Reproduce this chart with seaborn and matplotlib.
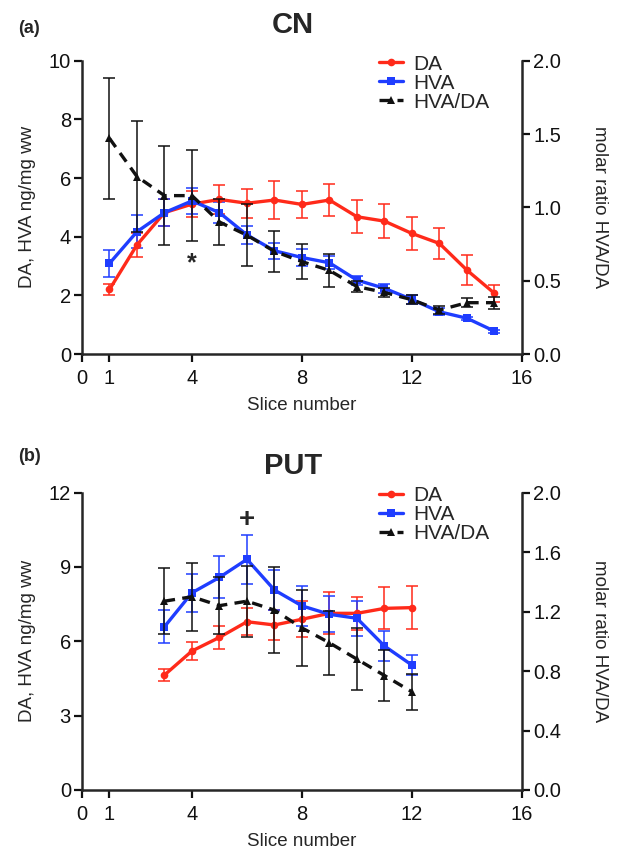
import numpy as np
import pandas as pd
import matplotlib
matplotlib.use("Agg")
import matplotlib.pyplot as plt
import seaborn as sns
from matplotlib.lines import Line2D

# panel (a) CN
a_slice = list(range(1, 16))
a_da = [2.2, 3.72, 4.82, 5.11, 5.27, 5.14, 5.25, 5.1, 5.25, 4.68, 4.53, 4.11, 3.77, 2.86, 2.07]
a_da_err = [0.2, 0.4, 0.45, 0.45, 0.5, 0.5, 0.65, 0.45, 0.55, 0.57, 0.58, 0.55, 0.52, 0.5, 0.3]
a_hva = [3.09, 4.17, 4.82, 5.22, 4.82, 4.06, 3.52, 3.29, 3.11, 2.52, 2.24, 1.86, 1.44, 1.22, 0.78]
a_hva_err = [0.47, 0.57, 0.45, 0.45, 0.35, 0.3, 0.28, 0.3, 0.22, 0.15, 0.15, 0.15, 0.12, 0.05, 0.05]
a_ratio = [1.47, 1.21, 1.08, 1.08, 0.90, 0.81, 0.70, 0.63, 0.57, 0.46, 0.42, 0.37, 0.30, 0.35, 0.35]
a_ratio_err = [0.41, 0.38, 0.34, 0.31, 0.16, 0.21, 0.14, 0.12, 0.11, 0.04, 0.03, 0.03, 0.03, 0.03, 0.04]

# panel (b) PUT
b_slice = list(range(3, 13))
b_da = [4.64, 5.61, 6.16, 6.79, 6.66, 6.89, 7.13, 7.13, 7.33, 7.36]
b_da_err = [0.23, 0.38, 0.45, 0.54, 0.6, 0.72, 0.85, 0.67, 0.85, 0.87]
b_hva = [6.59, 7.96, 8.58, 9.31, 8.07, 7.43, 7.09, 6.93, 5.81, 5.04]
b_hva_err = [0.67, 0.77, 0.85, 1.0, 0.8, 0.8, 0.72, 0.7, 0.6, 0.4]
b_ratio = [1.27, 1.30, 1.24, 1.27, 1.21, 1.09, 0.99, 0.88, 0.77, 0.66]
b_ratio_err = [0.22, 0.23, 0.19, 0.24, 0.29, 0.255, 0.215, 0.21, 0.17, 0.12]

x_ticks = [0, 1, 4, 8, 12, 16]

RED = "#ff2a1a"
BLUE = "#1f3dff"
BLACK = "#111111"

sns.set_theme(style="ticks")
plt.rcParams['font.family'] = ['Liberation Sans', 'DejaVu Sans']


def draw_panel(ax, slices, da, da_err, hva, hva_err, ratio, ratio_err,
               ymax, ystep, rstep, title, title_y):
    df = pd.DataFrame({
        'slice': slices * 2,
        'value': da + hva,
        'series': ['DA'] * len(slices) + ['HVA'] * len(slices),
    })
    ax2 = ax.twinx()

    # error bars first so lines sit on top
    ax.errorbar(slices, da, yerr=da_err, fmt='none', ecolor=RED, elinewidth=1.1,
                capsize=4.5, capthick=1.1, zorder=2)
    ax.errorbar(slices, hva, yerr=hva_err, fmt='none', ecolor=BLUE, elinewidth=1.1,
                capsize=4.5, capthick=1.1, zorder=2)
    sns.lineplot(data=df, x='slice', y='value', hue='series', style='series',
                 palette={'DA': RED, 'HVA': BLUE}, markers={'DA': 'o', 'HVA': 's'},
                 dashes=False, linewidth=2.4, markersize=5.5, markeredgewidth=0,
                 ax=ax, legend=False, zorder=3)

    ax2.errorbar(slices, ratio, yerr=ratio_err, fmt='none', ecolor=BLACK, elinewidth=1.1,
                 capsize=4.5, capthick=1.1, zorder=2)
    sns.lineplot(x=slices, y=ratio, color=BLACK, linestyle=(0, (3.2, 2.2)), linewidth=2.4,
                 marker='^', markersize=5.5, markeredgewidth=0, ax=ax2, zorder=3)

    ax.set_xlim(0, 16)
    ax.set_ylim(0, ymax)
    ax2.set_ylim(0, 2.0)
    ax.set_xticks(x_ticks)
    ax.set_yticks(np.arange(0, ymax + 0.01, ystep))
    ax2.set_yticks(np.arange(0, 2.001, rstep))
    ax2.set_yticklabels([f"{v:.1f}" for v in np.arange(0, 2.001, rstep)])
    ax.set_xlabel('Slice number', fontsize=13.5, labelpad=6)
    ax.set_ylabel('DA, HVA ng/mg ww', fontsize=13.5, labelpad=9)
    ax2.set_ylabel('molar ratio HVA/DA', fontsize=13.5, rotation=270, labelpad=34)

    for a in (ax, ax2):
        a.spines['top'].set_visible(False)
        for s in ('left', 'bottom', 'right'):
            a.spines[s].set_linewidth(1.8)
        a.tick_params(axis='both', labelsize=14.5, width=1.6, length=6, pad=2, colors='#111111')
    ax.tick_params(axis='x', pad=5)
    ax.spines['right'].set_visible(False)
    ax2.spines['left'].set_visible(False)
    ax2.spines['bottom'].set_visible(False)

    handles = [
        Line2D([], [], color=RED, lw=2.4, marker='o', markersize=5.5, markeredgewidth=0),
        Line2D([], [], color=BLUE, lw=2.4, marker='s', markersize=5.5, markeredgewidth=0),
        Line2D([], [], color=BLACK, lw=2.4, linestyle=(0, (3.2, 2.2)), marker='^',
               markersize=5.5, markeredgewidth=0),
    ]
    ax2.legend(handles, ['DA', 'HVA', 'HVA/DA'], loc='upper right',
               bbox_to_anchor=(0.96, 1.07), frameon=False, fontsize=15,
               handlelength=1.15, handletextpad=0.5, labelspacing=0.0, borderpad=0.2)
    ax.text(0.48, title_y, title, transform=ax.transAxes, ha='center', va='center',
            fontsize=21, fontweight='bold')
    return ax2


fig = plt.figure(figsize=(6.24, 8.5), dpi=100)
ax_a = fig.add_axes([0.1314, 0.5835, 0.705, 0.3451])
ax_b = fig.add_axes([0.1314, 0.0706, 0.705, 0.3498])

draw_panel(ax_a, a_slice, a_da, a_da_err, a_hva, a_hva_err, a_ratio, a_ratio_err,
           10, 2, 0.5, 'CN', 1.12)
draw_panel(ax_b, b_slice, b_da, b_da_err, b_hva, b_hva_err, b_ratio, b_ratio_err,
           12, 3, 0.4, 'PUT', 1.09)

ax_a.text(4, 3.1, '*', ha='center', va='center', fontsize=18, fontweight='bold')
ax_b.text(6, 10.9, '+', ha='center', va='center', fontsize=20, fontweight='bold')

fig.text(0.047, 0.966, '(a)', fontsize=13, fontweight='bold', ha='center', va='center')
fig.text(0.047, 0.463, '(b)', fontsize=13, fontweight='bold', ha='center', va='center')

fig.savefig('out.png', dpi=100)
